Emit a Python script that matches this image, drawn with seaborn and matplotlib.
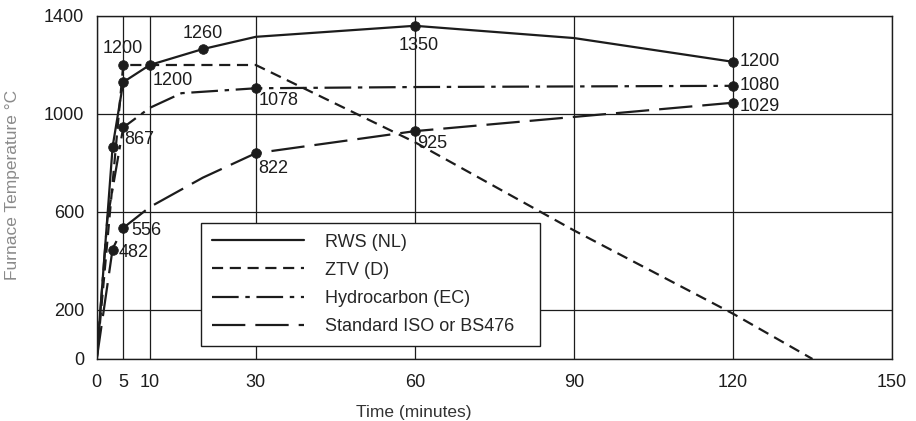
import seaborn as sns
import numpy as np
import pandas as pd
import matplotlib as mpl
import matplotlib.pyplot as plt

# curves (minutes, deg C)
curve_names = ["RWS (NL)", "ZTV (D)", "Hydrocarbon (EC)", "Standard ISO or BS476"]
time_rws = [0, 3, 5, 10, 20, 30, 60, 90, 120]
temp_rws = [0, 867, 1130, 1200, 1265, 1315, 1360, 1310, 1213]
time_ztv = [0, 5, 30, 60, 90, 120, 135]
temp_ztv = [0, 1200, 1200, 885, 525, 185, 0]
time_hc = [0, 2, 5, 10, 16, 30, 60, 120]
temp_hc = [0, 570, 945, 1025, 1085, 1105, 1110, 1115]
time_iso = [0, 3, 5, 10, 20, 30, 60, 120]
temp_iso = [0, 450, 535, 620, 740, 840, 930, 1046]

# marked points and their printed values
mark_time = [3, 5, 5, 10, 20, 30, 60, 120, 5, 30, 60, 120, 120, 5, 3]
mark_temp = [867, 1130, 1200, 1200, 1265, 1105, 1360, 1213, 945, 840, 930, 1046, 1115, 535, 445]
mark_text = ["", "", "1200", "1200", "1260", "1078", "1350", "1200", "867", "822", "925", "1029", "1080", "556", "482"]

x_ticks = [0, 5, 10, 30, 60, 90, 120, 150]
y_ticks = [0, 200, 600, 1000, 1400]
y_minor = [400, 800, 1200]

# label placement (offset in points, horizontal alignment)
label_pos = [(0, 0, "left"), (0, 0, "left"), (0, 12, "center"), (2, -11, "left"),
             (0, 11, "center"), (2, -9, "left"), (3, -14, "center"), (5, 0, "left"),
             (1, -9, "left"), (2, -11, "left"), (2, -9, "left"), (5, -3, "left"),
             (5, 0, "left"), (6, -2, "left"), (4, -2, "left")]

sns.set_style("white")
plt.rcParams['font.family'] = ['Liberation Sans', 'DejaVu Sans']
plt.rcParams['font.size'] = 13

frames = []
for name, t, v in zip(curve_names, [time_rws, time_ztv, time_hc, time_iso],
                      [temp_rws, temp_ztv, temp_hc, temp_iso]):
    frames.append(pd.DataFrame({"time": t, "temp": v, "curve": name}))
df = pd.concat(frames, ignore_index=True)

ink = "#1c1c1c"
dash_map = {"RWS (NL)": "", "ZTV (D)": (5, 3),
            "Hydrocarbon (EC)": (12, 3, 2, 3), "Standard ISO or BS476": (15, 4.5)}

fig = plt.figure(figsize=(9.16, 4.21), dpi=100)
ax = fig.add_axes([0.1056, 0.1473, 0.8682, 0.8147])

sns.lineplot(data=df, x="time", y="temp", style="curve", dashes=dash_map,
             color=ink, linewidth=1.6, sort=False, ax=ax)
sns.scatterplot(x=mark_time, y=mark_temp, color=ink, s=48, edgecolor=ink,
                zorder=6, ax=ax)

for t, v, txt, (dx, dy, ha) in zip(mark_time, mark_temp, mark_text, label_pos):
    if txt:
        ax.annotate(txt, (t, v), xytext=(dx, dy), textcoords="offset points",
                    ha=ha, va="center", fontsize=13, color=ink, zorder=7)

ax.set_xlim(0, 150)
ax.set_ylim(0, 1400)
ax.set_xticks(x_ticks)
ax.set_yticks(y_ticks)
ax.set_yticks(y_minor, minor=True)
ax.grid(True, which="major", color=ink, linewidth=0.9)
ax.set_axisbelow(True)
ax.tick_params(axis="x", direction="inout", length=9, width=0.9, pad=6,
               labelsize=13, colors=ink)
ax.tick_params(axis="y", which="both", direction="out", length=8, width=0.9,
               pad=1, labelsize=13, colors=ink)
for s in ax.spines.values():
    s.set_color(ink)
    s.set_linewidth(1.0)

ax.set_xlabel("Time (minutes)", fontsize=12.5, color="#333333")
ax.xaxis.set_label_coords(0.399, -0.135)
ax.set_ylabel("Furnace Temperature °C", fontsize=12.5, color="#8a8a8a")
ax.yaxis.set_label_coords(-0.097, 0.507)

leg = ax.legend(loc="lower left", bbox_to_anchor=(0.131, 0.038, 0.426, 0.359),
                mode="expand", frameon=True, fancybox=False, handlelength=5.1,
                handletextpad=1.15, borderpad=0.6, labelspacing=0.62,
                fontsize=13, borderaxespad=0)
leg.get_frame().set_edgecolor(ink)
leg.get_frame().set_linewidth(1.0)
leg.get_frame().set_alpha(1)
for line in leg.get_lines():
    line.set_linewidth(1.6)

fig.savefig("out.png", dpi=100)
